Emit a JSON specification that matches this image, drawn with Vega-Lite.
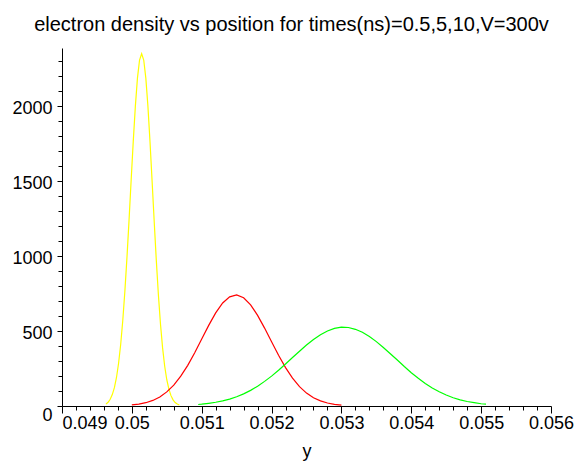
{
  "$schema": "https://vega.github.io/schema/vega-lite/v6.json",
  "autosize": {"type": "none"},
  "width": 489,
  "height": 358,
  "padding": {"left": 62, "top": 48, "right": 31, "bottom": 56},
  "background": "white",
  "title": {
    "text": "electron density vs position for times(ns)=0.5,5,10,V=300v",
    "font": "Liberation Sans",
    "fontSize": 20,
    "fontWeight": "normal",
    "color": "black",
    "anchor": "middle",
    "baseline": "alphabetic",
    "offset": -3,
    "dx": -15
  },
  "config": {
    "view": {"stroke": null},
    "axis": {
      "labelFont": "Liberation Sans",
      "labelFontSize": 18,
      "labelColor": "black",
      "titleFont": "Liberation Sans",
      "titleFontSize": 18,
      "titleFontWeight": "normal",
      "titleColor": "black",
      "domainColor": "black",
      "tickColor": "black",
      "grid": false,
      "labelOverlap": false,
      "labelBound": false,
      "labelFlush": false
    }
  },
  "datasets": {
    "curves": [
      {"series": "t0.5", "x": 0.04963, "y": 13},
      {"series": "t0.5", "x": 0.04966, "y": 25},
      {"series": "t0.5", "x": 0.04969, "y": 45},
      {"series": "t0.5", "x": 0.04972, "y": 76},
      {"series": "t0.5", "x": 0.04975, "y": 122},
      {"series": "t0.5", "x": 0.04978, "y": 190},
      {"series": "t0.5", "x": 0.04981, "y": 285},
      {"series": "t0.5", "x": 0.04984, "y": 410},
      {"series": "t0.5", "x": 0.04987, "y": 570},
      {"series": "t0.5", "x": 0.04990, "y": 765},
      {"series": "t0.5", "x": 0.04993, "y": 990},
      {"series": "t0.5", "x": 0.04996, "y": 1240},
      {"series": "t0.5", "x": 0.04999, "y": 1505},
      {"series": "t0.5", "x": 0.05002, "y": 1763},
      {"series": "t0.5", "x": 0.05005, "y": 1996},
      {"series": "t0.5", "x": 0.05008, "y": 2184},
      {"series": "t0.5", "x": 0.05011, "y": 2305},
      {"series": "t0.5", "x": 0.05014, "y": 2347},
      {"series": "t0.5", "x": 0.05017, "y": 2305},
      {"series": "t0.5", "x": 0.05020, "y": 2184},
      {"series": "t0.5", "x": 0.05023, "y": 1996},
      {"series": "t0.5", "x": 0.05026, "y": 1759},
      {"series": "t0.5", "x": 0.05029, "y": 1496},
      {"series": "t0.5", "x": 0.05032, "y": 1227},
      {"series": "t0.5", "x": 0.05035, "y": 970},
      {"series": "t0.5", "x": 0.05038, "y": 740},
      {"series": "t0.5", "x": 0.05041, "y": 545},
      {"series": "t0.5", "x": 0.05044, "y": 387},
      {"series": "t0.5", "x": 0.05047, "y": 265},
      {"series": "t0.5", "x": 0.05050, "y": 175},
      {"series": "t0.5", "x": 0.05053, "y": 112},
      {"series": "t0.5", "x": 0.05056, "y": 69},
      {"series": "t0.5", "x": 0.05059, "y": 41},
      {"series": "t0.5", "x": 0.05062, "y": 23},
      {"series": "t0.5", "x": 0.05065, "y": 13},
      {"series": "t0.5", "x": 0.05068, "y": 7},
      {"series": "t5", "x": 0.0500, "y": 7},
      {"series": "t5", "x": 0.0501, "y": 13},
      {"series": "t5", "x": 0.0502, "y": 22},
      {"series": "t5", "x": 0.0503, "y": 37},
      {"series": "t5", "x": 0.0504, "y": 60},
      {"series": "t5", "x": 0.0505, "y": 94},
      {"series": "t5", "x": 0.0506, "y": 139},
      {"series": "t5", "x": 0.0507, "y": 199},
      {"series": "t5", "x": 0.0508, "y": 271},
      {"series": "t5", "x": 0.0509, "y": 355},
      {"series": "t5", "x": 0.0510, "y": 446},
      {"series": "t5", "x": 0.0511, "y": 537},
      {"series": "t5", "x": 0.0512, "y": 620},
      {"series": "t5", "x": 0.0513, "y": 686},
      {"series": "t5", "x": 0.0514, "y": 727},
      {"series": "t5", "x": 0.0515, "y": 740},
      {"series": "t5", "x": 0.0516, "y": 721},
      {"series": "t5", "x": 0.0517, "y": 674},
      {"series": "t5", "x": 0.0518, "y": 604},
      {"series": "t5", "x": 0.0519, "y": 519},
      {"series": "t5", "x": 0.0520, "y": 428},
      {"series": "t5", "x": 0.0521, "y": 338},
      {"series": "t5", "x": 0.0522, "y": 256},
      {"series": "t5", "x": 0.0523, "y": 186},
      {"series": "t5", "x": 0.0524, "y": 129},
      {"series": "t5", "x": 0.0525, "y": 86},
      {"series": "t5", "x": 0.0526, "y": 55},
      {"series": "t5", "x": 0.0527, "y": 34},
      {"series": "t5", "x": 0.0528, "y": 20},
      {"series": "t5", "x": 0.0529, "y": 11},
      {"series": "t5", "x": 0.0530, "y": 6},
      {"series": "t10", "x": 0.05095, "y": 10},
      {"series": "t10", "x": 0.0510, "y": 12},
      {"series": "t10", "x": 0.0511, "y": 18},
      {"series": "t10", "x": 0.0512, "y": 25},
      {"series": "t10", "x": 0.0513, "y": 34},
      {"series": "t10", "x": 0.0514, "y": 46},
      {"series": "t10", "x": 0.0515, "y": 62},
      {"series": "t10", "x": 0.0516, "y": 81},
      {"series": "t10", "x": 0.0517, "y": 104},
      {"series": "t10", "x": 0.0518, "y": 132},
      {"series": "t10", "x": 0.0519, "y": 164},
      {"series": "t10", "x": 0.0520, "y": 199},
      {"series": "t10", "x": 0.0521, "y": 238},
      {"series": "t10", "x": 0.0522, "y": 280},
      {"series": "t10", "x": 0.0523, "y": 323},
      {"series": "t10", "x": 0.0524, "y": 365},
      {"series": "t10", "x": 0.0525, "y": 406},
      {"series": "t10", "x": 0.0526, "y": 443},
      {"series": "t10", "x": 0.0527, "y": 475},
      {"series": "t10", "x": 0.0528, "y": 500},
      {"series": "t10", "x": 0.0529, "y": 517},
      {"series": "t10", "x": 0.0530, "y": 525},
      {"series": "t10", "x": 0.0531, "y": 523},
      {"series": "t10", "x": 0.0532, "y": 511},
      {"series": "t10", "x": 0.0533, "y": 491},
      {"series": "t10", "x": 0.0534, "y": 463},
      {"series": "t10", "x": 0.0535, "y": 429},
      {"series": "t10", "x": 0.0536, "y": 390},
      {"series": "t10", "x": 0.0537, "y": 348},
      {"series": "t10", "x": 0.0538, "y": 306},
      {"series": "t10", "x": 0.0539, "y": 263},
      {"series": "t10", "x": 0.0540, "y": 222},
      {"series": "t10", "x": 0.0541, "y": 185},
      {"series": "t10", "x": 0.0542, "y": 150},
      {"series": "t10", "x": 0.0543, "y": 120},
      {"series": "t10", "x": 0.0544, "y": 95},
      {"series": "t10", "x": 0.0545, "y": 73},
      {"series": "t10", "x": 0.0546, "y": 55},
      {"series": "t10", "x": 0.0547, "y": 41},
      {"series": "t10", "x": 0.0548, "y": 30},
      {"series": "t10", "x": 0.0549, "y": 22},
      {"series": "t10", "x": 0.0550, "y": 15},
      {"series": "t10", "x": 0.05507, "y": 12}
    ]
  },
  "data": {"name": "curves"},
  "layer": [
    {
      "mark": {"type": "line", "strokeWidth": 1.2, "interpolate": "linear"},
      "encoding": {
        "x": {
          "field": "x", "type": "quantitative",
          "scale": {"domain": [0.049, 0.056], "nice": false, "zero": false},
          "axis": {
            "orient": "bottom",
            "title": "y",
            "values": [0.049, 0.05, 0.051, 0.052, 0.053, 0.054, 0.055, 0.056],
            "format": "~g",
            "tickSize": 7,
            "labelPadding": 1,
            "titlePadding": 10,
            "labelAlign": {"condition": {"test": "datum.value < 0.0495", "value": "left"}, "value": "center"}
          }
        },
        "y": {
          "field": "y", "type": "quantitative",
          "scale": {"domain": [0, 2385], "nice": false},
          "axis": {
            "orient": "left",
            "title": null,
            "values": [0, 500, 1000, 1500, 2000],
            "format": "d",
            "tickSize": 5,
            "labelPadding": 5,
            "labelOffset": {"condition": {"test": "datum.value == 0", "value": 9}, "value": 3}
          }
        },
        "color": {
          "field": "series", "type": "nominal",
          "scale": {"domain": ["t0.5", "t5", "t10"], "range": ["#FFFF00", "#FF0000", "#00FF00"]},
          "legend": null
        }
      }
    },
    {
      "mark": {"type": "line", "opacity": 0},
      "encoding": {
        "x": {
          "field": "x", "type": "quantitative",
          "axis": {
            "orient": "bottom",
            "title": null, "labels": false, "domain": false, "tickSize": 4,
            "values": [0.0492, 0.0494, 0.0496, 0.0498, 0.0502, 0.0504, 0.0506, 0.0508, 0.0512, 0.0514, 0.0516, 0.0518, 0.0522, 0.0524, 0.0526, 0.0528, 0.0532, 0.0534, 0.0536, 0.0538, 0.0542, 0.0544, 0.0546, 0.0548, 0.0552, 0.0554, 0.0556, 0.0558]
          }
        },
        "y": {
          "field": "y", "type": "quantitative",
          "axis": {
            "orient": "left",
            "title": null, "labels": false, "domain": false, "tickSize": 4,
            "values": [100, 200, 300, 400, 600, 700, 800, 900, 1100, 1200, 1300, 1400, 1600, 1700, 1800, 1900, 2100, 2200, 2300]
          }
        },
        "detail": {"field": "series", "type": "nominal"}
      }
    }
  ],
  "resolve": {"axis": {"x": "independent", "y": "independent"}}
}
